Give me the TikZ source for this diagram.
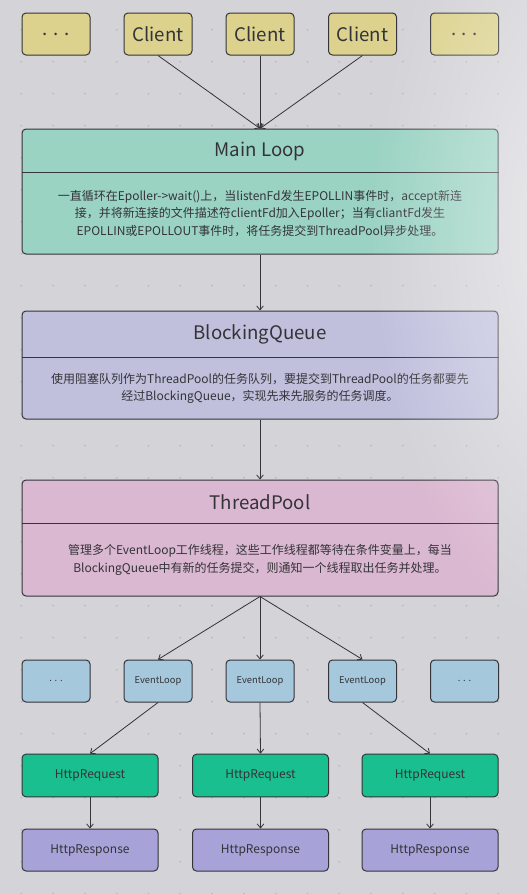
\documentclass[tikz,border=0pt]{standalone}
\usepackage{fontspec}
\setmainfont{Noto Sans CJK SC}
\usetikzlibrary{arrows.meta,fadings,positioning}
\definecolor{bgGray}{HTML}{D3D3D8}
\definecolor{dotGray}{HTML}{B4B4B9}
\definecolor{edgeDark}{HTML}{34343A}
\definecolor{inkDark}{HTML}{333338}
\definecolor{clientFill}{HTML}{DCD28E}
\definecolor{mainFill}{HTML}{9BD3C2}
\definecolor{queueFill}{HTML}{C0C0DD}
\definecolor{poolFill}{HTML}{DBB8D1}
\definecolor{loopFill}{HTML}{A6C8DC}
\definecolor{reqFill}{HTML}{1ABF8F}
\definecolor{respFill}{HTML}{A7A3D8}
\tikzfading[name=glow, inner color=transparent!0, outer color=transparent!100]
\tikzset{
  box/.style={draw=edgeDark, line width=0.75pt, rounded corners=3pt, text=inkDark, inner sep=0pt},
  clientbox/.style={box, fill=clientFill, minimum width=51pt, minimum height=31.5pt, font=\fontsize{14pt}{16pt}\selectfont},
  bigbox/.style={box, minimum width=357pt},
  loopbox/.style={box, fill=loopFill, minimum width=51pt, minimum height=31.5pt, font=\fontsize{7pt}{8pt}\selectfont},
  reqbox/.style={box, fill=reqFill, minimum width=102pt, minimum height=32pt, font=\fontsize{9pt}{10pt}\selectfont},
  respbox/.style={box, fill=respFill, minimum width=102pt, minimum height=31.5pt, font=\fontsize{9pt}{10pt}\selectfont},
  titletext/.style={text=inkDark, font=\fontsize{14pt}{16pt}\selectfont},
  bodytext/.style={text=inkDark, align=center, font=\fontsize{9pt}{13pt}\selectfont},
  divider/.style={draw=edgeDark, line width=0.75pt},
  link/.style={draw=edgeDark, line width=0.6pt, -{Straight Barb[length=3pt,width=5pt]}},
}
\begin{document}
\begin{tikzpicture}[x=0.75pt, y=-0.75pt]
		%%%%% BACKGROUND %%%%%
		\fill[bgGray] (0,0) rectangle (527,894);
		\useasboundingbox (0,0) rectangle (527,894);
		\foreach \gx in {0,...,15}
		  \foreach \gy in {0,...,28}
		    \fill[dotGray] ({21.3+31.8*\gx},{-2.3+32*\gy}) circle (0.65pt);
		
		%%%%% CLIENTS %%%%%
		\node[clientbox] (cliL) at (56,34) {. . .};
		\node[clientbox] (cliA) at (158,34) {Client};
		\node[clientbox] (cliB) at (260,34) {Client};
		\node[clientbox] (cliC) at (362.5,34) {Client};
		\node[clientbox] (cliR) at (464.5,34) {. . .};
		
		%%%%% MAIN LOOP %%%%%
		\node[bigbox, fill=mainFill, minimum height=93.75pt] (main) at (260,191.5) {};
		\draw[divider] ([yshift=-33pt]main.north west) -- ([yshift=-33pt]main.north east);
		\node[titletext] (mainT) at (260,151) {Main Loop};
		\node[bodytext] (mainB) at (260,213.5) {一直循环在Epoller->wait()上，当listenFd发生EPOLLIN事件时，accept新连\\接，并将新连接的文件描述符clientFd加入Epoller；当有cliantFd发生\\EPOLLIN或EPOLLOUT事件时，将任务提交到ThreadPool异步处理。};
		
		%%%%% BLOCKING QUEUE %%%%%
		\node[bigbox, fill=queueFill, minimum height=81pt] (queue) at (260,365) {};
		\draw[divider] ([yshift=-35.25pt]queue.north west) -- ([yshift=-35.25pt]queue.north east);
		\node[titletext] (queueT) at (260,334.5) {BlockingQueue};
		\node[bodytext] (queueB) at (260,388.5) {使用阻塞队列作为ThreadPool的任务队列，要提交到ThreadPool的任务都要先\\经过BlockingQueue，实现先来先服务的任务调度。};
		
		%%%%% THREAD POOL %%%%%
		\node[bigbox, fill=poolFill, minimum height=87pt] (pool) at (260,538) {};
		\draw[divider] ([yshift=-33pt]pool.north west) -- ([yshift=-33pt]pool.north east);
		\node[titletext] (poolT) at (260,502) {ThreadPool};
		\node[bodytext] (poolB) at (260,560) {管理多个EventLoop工作线程，这些工作线程都等待在条件变量上，每当\\BlockingQueue中有新的任务提交，则通知一个线程取出任务并处理。};
		
		%%%%% EVENT LOOPS %%%%%
		\node[loopbox] (elL) at (56,681) {. . .};
		\node[loopbox] (elA) at (158,681) {EventLoop};
		\node[loopbox] (elB) at (260,681) {EventLoop};
		\node[loopbox] (elC) at (362.5,681) {EventLoop};
		\node[loopbox] (elR) at (464.5,681) {. . .};
		
		%%%%% REQUEST / RESPONSE %%%%%
		\node[reqbox] (reqA) at (90,775.5) {HttpRequest};
		\node[reqbox] (reqB) at (260.5,775.5) {HttpRequest};
		\node[reqbox] (reqC) at (430,775.5) {HttpRequest};
		\node[respbox] (respA) at (90,850) {HttpResponse};
		\node[respbox] (respB) at (260.5,850) {HttpResponse};
		\node[respbox] (respC) at (430,850) {HttpResponse};
		
		%%%%% LINKS %%%%%
		\draw[link] (cliA.south) -- (main.north);
		\draw[link] (cliB.south) -- (main.north);
		\draw[link] (cliC.south) -- (main.north);
		\draw[link] (main.south) -- (queue.north);
		\draw[link] (queue.south) -- (pool.north);
		\draw[link] (pool.south) -- (elA.north);
		\draw[link] (pool.south) -- (elB.north);
		\draw[link] (pool.south) -- (elC.north);
		\draw[link] (elA.south) -- (reqA.north);
		\draw[link] (elB.south) -- (reqB.north);
		\draw[link] (elC.south) -- (reqC.north);
		\draw[link] (reqA.south) -- (respA.north);
		\draw[link] (reqB.south) -- (respB.north);
		\draw[link] (reqC.south) -- (respC.north);
		
		%%%%% LIGHT GLOW %%%%%
		\fill[white, opacity=0.6, path fading=glow] (600,230) ellipse (230 and 420);
\end{tikzpicture}
\end{document}
